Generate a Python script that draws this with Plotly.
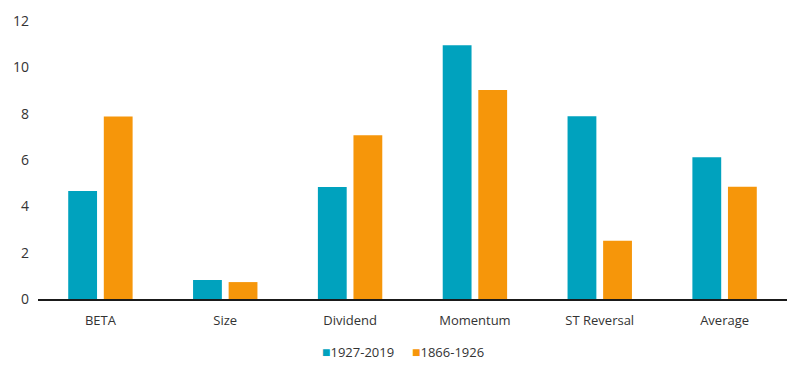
import plotly.graph_objects as go

categories = ["BETA", "Size", "Dividend", "Momentum", "ST Reversal", "Average"]
series_1927_2019 = [4.66, 0.82, 4.83, 10.95, 7.89, 6.12]
series_1866_1926 = [7.88, 0.73, 7.07, 9.02, 2.51, 4.84]
series_names = ["1927-2019", "1866-1926"]
series_colors = ["#00A2BE", "#F6960A"]
y_ticks = [0, 2, 4, 6, 8, 10, 12]

font_family = "Open Sans, Noto Sans, sans-serif"

fig = go.Figure()
for name, vals, col in zip(series_names, [series_1927_2019, series_1866_1926], series_colors):
    fig.add_trace(go.Bar(x=categories, y=vals, name=name, showlegend=False,
                         marker=dict(color=col, line=dict(width=0))))

# Compact legend built from text annotations
legend_x = [0.376, 0.497]
for name, col, lx in zip(series_names, series_colors, legend_x):
    fig.add_annotation(
        x=lx, y=-0.19, xref="paper", yref="paper", xanchor="left", yanchor="middle",
        showarrow=False,
        text=f"<span style='color:{col};font-size:14px'>■</span>{name}",
        font=dict(size=13, color="#333333", family=font_family),
    )

fig.update_layout(
    width=800, height=370,
    margin=dict(l=30, r=21, t=13, b=79, autoexpand=False),
    paper_bgcolor="white", plot_bgcolor="white",
    barmode="group", bargap=0.43, bargroupgap=0.19,
    font=dict(family=font_family, size=13, color="#333333"),
    showlegend=False,
    xaxis=dict(showgrid=False, showline=True, linecolor="#1a1a1a", linewidth=2,
               ticks="", tickfont=dict(size=13, color="#333333"),
               ticklabelstandoff=8, automargin=False),
    yaxis=dict(range=[0, 12], tickvals=y_ticks, showgrid=False, zeroline=False,
               showline=False, ticks="", tickfont=dict(size=14, color="#333333"),
               ticklabelstandoff=8, automargin=False),
)

fig.write_html("out.html")
